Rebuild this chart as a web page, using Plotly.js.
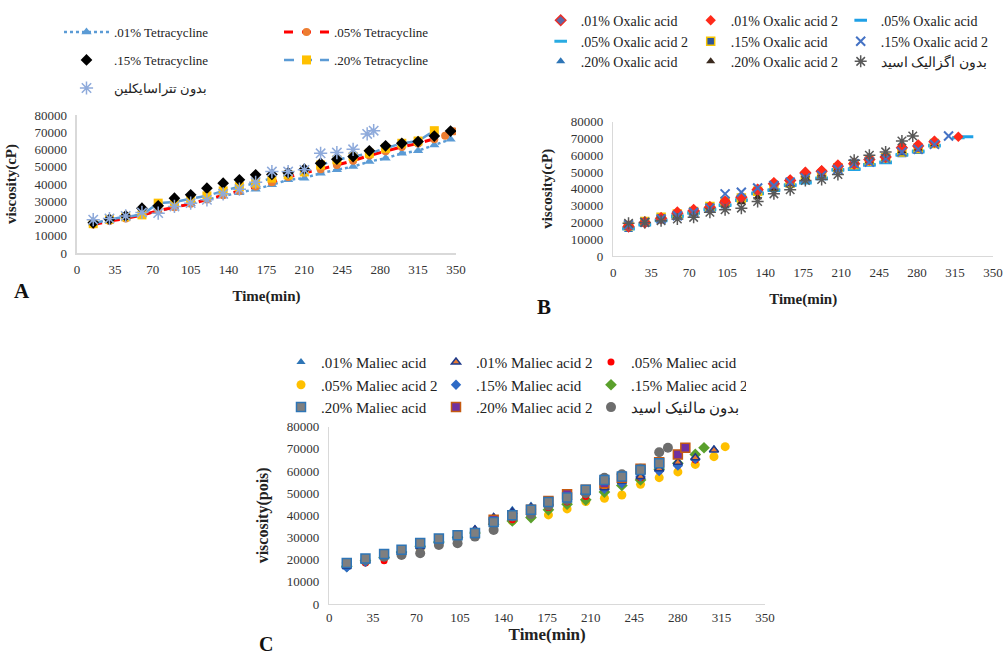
<!DOCTYPE html>
<html><head><meta charset="utf-8">
<script src="https://cdn.plot.ly/plotly-3.0.1.min.js"></script>
<style>html,body{margin:0;padding:0;background:#fff}#chart{width:1005px;height:657px}</style>
</head><body><div id="chart"></div>
<script>
// ---------- Panel A : Tetracycline ----------
const tA = [15,30,45,60,75,90,105,120,135,150,165,180,195,210,225,240,255,270,285,300,315,330,345];
const tetra01 = [17300,19000,20500,22500,24000,26500,28500,31000,33000,35000,37000,39500,42400,43400,46300,48200,50100,53000,54900,57800,59300,62600,65900];
const tA05 = [15,30,45,60,75,90,105,120,135,150,165,180,195,210,225,240,255,270,285,300,315,330,340,348];
const tetra05 = [16500,18500,20000,22000,24500,26500,28500,31000,33500,36000,38500,41000,44000,46500,48500,51000,53500,56500,59000,61500,63500,66000,68000,70500];
const tetra15 = [17500,19500,21500,26000,27400,31800,33700,37600,40500,42400,45300,45500,46500,48600,52000,54400,55900,59200,62100,63600,64600,67800,70700];
const tA20 = [15,30,45,60,75,90,105,120,135,150,165,180,195,210,225,240,255,270,285,300,315,330];
const tetra20 = [17000,19500,21000,22100,28900,29500,31500,33100,36000,38500,40500,43400,45300,47000,51000,54000,55900,57800,60700,63600,64900,70900];
const tA0 = [15,30,45,60,75,90,105,120,135,150,165,180,195,210,225,240,255,268,274];
const tetra0 = [19300,20000,21500,23500,23100,27000,28900,30800,34300,37000,41000,47200,47200,48200,57800,58200,60100,69000,70900];
const namesA = ['.01% Tetracycline','.05% Tetracycline','.15% Tetracycline','.20% Tetracycline','بدون تتراسایکلین'];

// ---------- Panel B : Oxalic acid ----------
const tB = [14,29,44,59,74,89,103,118,133,148,163,177,192,207,222,236,251,266,281,296];
const ox01 = [17500,20000,22500,25500,27000,29000,32000,35000,39500,43000,45000,49500,50500,53500,55000,57500,59000,64500,65500,68000];
const tBox01b = tB.concat([318]);
const ox01b = [18500,20500,23000,26500,28000,29500,33000,35500,40000,44000,45500,50000,51000,54500,55500,58500,59500,65000,66500,68500,71000];
const tBox05 = tB.concat([326]);
const ox05 = [16000,18500,21000,23500,25500,27500,30000,33000,37000,39000,42000,43500,46000,51000,51500,54000,55500,60000,62000,65500,71000];
const tBox05b = tB.concat([318]);
const ox05b = [16500,19000,21500,24000,26000,28000,30500,33500,37500,39500,42500,44000,46500,51500,52000,54500,56000,60500,62500,66000,70500];
const ox15 = [18000,20500,23000,25000,26500,29500,32500,34500,38500,41500,43500,47000,48500,52500,54500,56500,58500,62000,64000,67000];
const tBox15b = tB.concat([309]);
const ox15b = [18500,20000,22000,24000,26000,28500,37000,38000,40500,42000,44000,46500,48000,51500,55000,56000,58000,62000,63500,66500,71500];
const ox20 = [15500,18500,20500,23000,25000,27000,29500,33000,37500,40000,42000,45500,47500,51000,53000,55000,57000,60000,62000,65500];
const ox20b = [17000,19500,21500,24000,25500,27500,30000,32000,35000,40000,43000,46500,48000,52000,54500,56500,58000,62500,64000,66500];
const tBox0 = [14,29,44,59,74,89,103,118,133,148,163,177,192,207,222,236,251,266,276];
const ox0 = [19500,20000,21000,22000,23000,26000,27500,28500,32500,37000,39500,45000,45500,48500,57000,60000,62000,68500,71500];
const namesB = ['.01% Oxalic acid','.01% Oxalic acid 2','.05% Oxalic acid','.05% Oxalic acid 2','.15% Oxalic acid','.15% Oxalic acid 2','.20% Oxalic acid','.20% Oxalic acid 2','بدون اگزالیک اسید'];

// ---------- Panel C : Maliec acid ----------
const tC = [14,29,44,58,73,88,103,117,132,147,162,176,191,206,221,235,250,265,280,294];
const tCm01 = tC.concat([309]);
const mal01 = [16500,19000,21000,23500,25500,28000,30500,34000,39500,42500,44500,46000,47500,50000,53000,55000,58000,60500,63000,65500,70000];
const mal01b = [17000,19500,21500,24000,26000,28500,31000,33500,39000,41500,43500,45500,48000,50500,52500,55500,57500,61000,64000,66000,69500];
const mal05 = [17000,18500,19500,22000,24500,27000,29000,31500,36000,38000,41000,43500,46000,48500,52000,54500,57000,60000,62500,65000];
const tCm05b = tC.concat([309,318]);
const mal05b = [17500,19000,21000,23000,25000,27500,29500,32000,35500,37500,39500,40200,42900,46200,47700,49200,54000,57000,59600,63000,66500,71000];
const mal15 = [16500,19000,21500,23000,25500,27500,29500,32500,38000,41000,43000,45000,47000,50000,52000,54500,57500,60000,62500,65500];
const tCm15b = tC.concat([301]);
const mal15b = [17000,19500,21000,23500,26000,28000,30000,32000,36000,37500,39000,42500,45000,47000,50500,53500,56000,60800,63500,67500,70500];
const tCm20 = [14,29,44,58,73,88,103,117,132,147,162,176,191,206,221,235,250,265];
const mal20 = [18500,20500,22500,24500,27500,29500,31000,32000,37000,40000,42500,46000,48000,51500,56000,57500,60500,63500];
const tCm20b = [132,147,162,176,191,206,221,235,250,265,280,286];
const mal20b = [38000,40000,42500,46500,49500,51500,54500,57000,61000,64000,67500,70500];
const tCm0 = [14,29,44,58,73,88,103,117,132,147,162,176,191,206,221,235,250,265,272];
const mal0 = [18500,19900,21300,22100,22900,26600,27400,30400,33400,39500,40500,44500,47000,50000,57000,58500,61000,68500,70500];
const namesC = ['.01% Maliec acid','.01% Maliec acid 2','.05% Maliec acid','.05% Maliec acid 2','.15% Maliec acid','.15% Maliec acid 2','.20% Maliec acid','.20% Maliec acid 2','بدون مالئیک اسید'];

const xTicks = [0,35,70,105,140,175,210,245,280,315,350];
const yTicks = [0,10000,20000,30000,40000,50000,60000,70000,80000];

const SERIF = 'Liberation Serif, Times New Roman, serif';

function mk(xs, ys, name, ax, legend, rank, marker, extra) {
  return Object.assign({
    type: 'scatter', x: xs, y: ys, name: name, mode: 'markers',
    xaxis: ax[0], yaxis: ax[1], legend: legend, legendrank: rank,
    marker: marker, hoverinfo: 'skip'
  }, extra || {});
}
const A = ['x','y'], B = ['x2','y2'], C = ['x3','y3'];

const data = [
  // A
  mk(tA, tetra01, namesA[0], A, 'legend', 1, {symbol:'triangle-up', size:9, color:'#5b9bd5'}, {mode:'lines+markers', line:{color:'#5b9bd5', width:2.5, dash:'dot'}}),
  mk(tA05, tetra05, namesA[1], A, 'legend', 2, {symbol:'circle', size:8, color:'#ed7d31'}, {mode:'lines+markers', line:{color:'#ff0000', width:3, dash:'dash'}}),
  mk(tA20, tetra20, namesA[3], A, 'legend2', 2, {symbol:'square', size:9, color:'#ffc000'}, {mode:'lines+markers', line:{color:'#5b9bd5', width:2.5, dash:'10px,8px'}}),
  mk(tA, tetra15, namesA[2], A, 'legend2', 1, {symbol:'diamond', size:9, color:'#000000'}),
  mk(tA0, tetra0, namesA[4], A, 'legend3', 1, {symbol:'asterisk-open', size:11, color:'#8eaadb', line:{color:'#8eaadb', width:1.5}}),
  // B
  mk(tB, ox20, namesB[6], B, 'legend6', 1, {symbol:'triangle-up', size:8, color:'#2e75b6'}),
  mk(tBox05, ox05, namesB[2], B, 'legend4', 3, {symbol:'line-ew-open', size:9, color:'#1fa0e6', line:{color:'#1fa0e6', width:3}}),
  mk(tBox05b, ox05b, namesB[3], B, 'legend5', 1, {symbol:'line-ew-open', size:9, color:'#29abe2', line:{color:'#29abe2', width:3}}),
  mk(tB, ox15, namesB[4], B, 'legend5', 2, {symbol:'square', size:8, color:'#2f5597', line:{color:'#f5c400', width:1.5}}),
  mk(tB, ox20b, namesB[7], B, 'legend6', 2, {symbol:'triangle-up', size:8, color:'#3a2a1e'}),
  mk(tB, ox01, namesB[0], B, 'legend4', 1, {symbol:'diamond', size:8, color:'#5a6aa8', line:{color:'#e8302a', width:1.5}}),
  mk(tBox01b, ox01b, namesB[1], B, 'legend4', 2, {symbol:'diamond', size:8, color:'#ff2a1a'}),
  mk(tBox15b, ox15b, namesB[5], B, 'legend5', 3, {symbol:'x-thin-open', size:9, color:'#4472c4', line:{color:'#4472c4', width:2}}),
  mk(tBox0, ox0, namesB[8], B, 'legend6', 3, {symbol:'asterisk-open', size:10, color:'#595959', line:{color:'#595959', width:1.5}}),
  // C
  mk(tCm05b, mal05b, namesC[3], C, 'legend8', 1, {symbol:'circle', size:9, color:'#ffc000'}),
  mk(tCm15b, mal15b, namesC[5], C, 'legend8', 3, {symbol:'diamond', size:9, color:'#5aa02c'}),
  mk(tC, mal05, namesC[2], C, 'legend7', 3, {symbol:'circle', size:7, color:'#ff0000'}),
  mk(tCm01, mal01, namesC[0], C, 'legend7', 1, {symbol:'triangle-up', size:8, color:'#2e75b6'}),
  mk(tC, mal15, namesC[4], C, 'legend8', 2, {symbol:'diamond', size:8, color:'#2e6bc6'}),
  mk(tCm01, mal01b, namesC[1], C, 'legend7', 2, {symbol:'triangle-up', size:8, color:'#ed7d31', line:{color:'#1f3a8a', width:1.5}}),
  mk(tCm20b, mal20b, namesC[7], C, 'legend9', 2, {symbol:'square', size:9, color:'#7030a0', line:{color:'#c55a11', width:1.5}}),
  mk(tCm0, mal0, namesC[8], C, 'legend9', 3, {symbol:'circle', size:10, color:'#6d6d6d'}),
  mk(tCm20, mal20, namesC[6], C, 'legend9', 1, {symbol:'square', size:9, color:'#7f7f7f', line:{color:'#2e75b6', width:1.5}})
];

function xax(domain, anchor, tsize, stand, tls) {
  return {domain: domain, anchor: anchor, range: [0, 350], tickmode: 'array', tickvals: xTicks,
    showgrid: false, zeroline: false, showline: true, linecolor: '#d9d9d9', linewidth: 1.5, ticks: '',
    tickfont: {family: SERIF, size: 13, color: '#333'}, ticklabelstandoff: tls,
    title: {text: '<b>Time(min)</b>', font: {family: SERIF, size: tsize, color: '#222'}, standoff: stand},
    fixedrange: true};
}
function yax(domain, anchor, ttl, tsize, stand) {
  return {domain: domain, anchor: anchor, range: [0, 80000], tickmode: 'array', tickvals: yTicks,
    tickformat: 'd',
    showgrid: false, zeroline: false, showline: true, linecolor: '#d9d9d9', linewidth: 1.5, ticks: '',
    tickfont: {family: SERIF, size: 13, color: '#333'}, ticklabelstandoff: 6,
    title: {text: '<b>' + ttl + '</b>', font: {family: SERIF, size: tsize, color: '#222'}, standoff: stand},
    fixedrange: true};
}
function leg(x, y, ew, iw, fs) {
  return {x: x, y: y, xanchor: 'left', yanchor: 'middle', orientation: 'h',
    entrywidth: ew, entrywidthmode: 'pixels', itemwidth: iw,
    font: {family: SERIF, size: fs, color: '#222'}, bgcolor: 'rgba(0,0,0,0)', borderwidth: 0,
    traceorder: 'normal', tracegroupgap: 0};
}

const layout = {
  width: 1005, height: 657, margin: {l: 0, r: 0, t: 0, b: 0},
  paper_bgcolor: '#ffffff', plot_bgcolor: '#ffffff', showlegend: true,
  xaxis: xax([0.0766, 0.4537], 'y', 15, 14, 4),
  yaxis: yax([0.6149, 0.8250], 'x', 'viscosity(cP)', 15, 14),
  xaxis2: xax([0.6103, 0.9881], 'y2', 15, 14, 4),
  yaxis2: yax([0.6104, 0.8148], 'x2', 'viscosity(cP)', 15, 14),
  xaxis3: xax([0.3277, 0.7612], 'y3', 17, 0, 1),
  yaxis3: yax([0.0807, 0.3505], 'x3', 'viscosity(pois)', 16, 14),
  legend:  leg(0.0587, 0.9513, 160, 45, 13),
  legend2: leg(0.0587, 0.9087, 160, 45, 13),
  legend3: leg(0.0587, 0.8660, 160, 45, 13),
  legend4: leg(0.5380, 0.9685, 105, 30, 14),
  legend5: leg(0.5380, 0.9365, 105, 30, 14),
  legend6: leg(0.5380, 0.9060, 105, 30, 14),
  legend7: leg(0.2796, 0.4486, 110, 30, 15),
  legend8: leg(0.2796, 0.4140, 110, 30, 15),
  legend9: leg(0.2796, 0.3800, 110, 30, 15),
  annotations: [
    {text: '<b>A</b>', xref: 'paper', yref: 'paper', x: 22/1005, y: 1 - 291/657, xanchor: 'center', yanchor: 'middle', showarrow: false, font: {family: SERIF, size: 21, color: '#111'}},
    {text: '<b>B</b>', xref: 'paper', yref: 'paper', x: 544/1005, y: 1 - 307/657, xanchor: 'center', yanchor: 'middle', showarrow: false, font: {family: SERIF, size: 21, color: '#111'}},
    {text: '<b>C</b>', xref: 'paper', yref: 'paper', x: 266/1005, y: 1 - 644/657, xanchor: 'center', yanchor: 'middle', showarrow: false, font: {family: SERIF, size: 20, color: '#111'}}
  ]
};

Plotly.newPlot('chart', data, layout, {displayModeBar: false, staticPlot: true});
</script>
</body></html>
